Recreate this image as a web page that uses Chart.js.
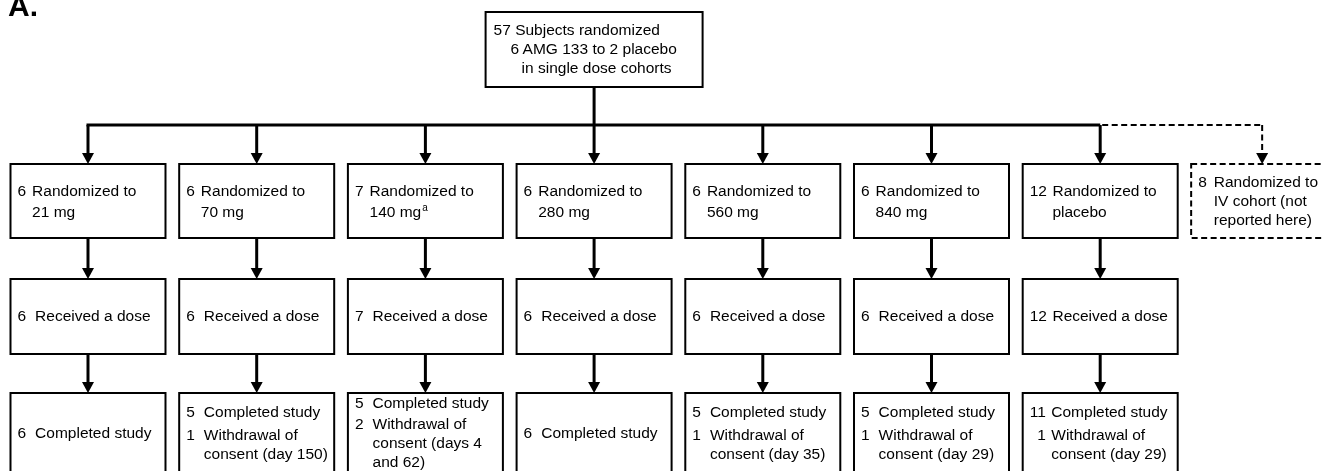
<!DOCTYPE html>
<html>
<head>
<meta charset="utf-8">
<script src="https://cdn.jsdelivr.net/npm/chart.js@4/dist/chart.umd.min.js"></script>
<style>
  html, body { margin: 0; padding: 0; background: #fff; }
  #wrap { position: relative; width: 1323px; height: 471px; }
</style>
</head>
<body>
<div id="wrap"><canvas id="chart"></canvas></div>
<script>
// flow data
const arms = ['21 mg', '70 mg', '140 mg', '280 mg', '560 mg', '840 mg', 'placebo'];
const armNotes = ['', '', 'a', '', '', '', ''];
const randomized = [6, 6, 7, 6, 6, 6, 12];
const dosed = [6, 6, 7, 6, 6, 6, 12];
const completed = [6, 5, 5, 6, 5, 5, 11];
const withdrawn = [0, 1, 2, 0, 1, 1, 1];
const withdrawalDays = ['', 'day 150', 'days 4 and 62', '', 'day 35', 'day 29', 'day 29'];
const totalRandomized = 57;
const ratio = [6, 2];
const ivCohort = 8;

// layout (scale units: x = column, y = pixel rows)
const ivColumn = 6.96;
const topColumn = 3;
const boxW = 155;
const rows = { top: [12, 87], rand: [164, 238], dose: [279, 354], done: [393, 476] };
const branchY = 125;
const FONT = '15.5px "Liberation Sans", Arial, Helvetica, sans-serif';
const INK = '#000';
const DASH = [6, 3.5];

function wrapText(ctx, text, maxW) {
  const words = text.split(' ');
  const out = [];
  let line = '';
  words.forEach(w => {
    const test = line ? line + ' ' + w : w;
    if (ctx.measureText(test).width > maxW && line) {
      out.push(line);
      line = w;
    } else {
      line = test;
    }
  });
  if (line) out.push(line);
  return out;
}

// draws numbered items inside a box, block centered vertically
function drawItems(ctx, items, left, cy, gap, itemGap, lineH) {
  ctx.font = FONT;
  const numW = Math.max(...items.map(it => ctx.measureText(String(it.num)).width));
  const numRight = left + 7 + numW;
  const textX = numRight + (numW > 10 ? Math.min(gap, 5.5) : gap);
  let total = 0;
  items.forEach((it, k) => {
    total += (it.lines.length - 1) * lineH;
    if (k > 0) total += itemGap;
  });
  let y = cy - total / 2;
  ctx.textBaseline = 'middle';
  items.forEach((it, k) => {
    if (k > 0) y += itemGap;
    ctx.textAlign = 'right';
    ctx.fillText(String(it.num), numRight, y);
    ctx.textAlign = 'left';
    it.lines.forEach((ln, j) => {
      if (j > 0) y += lineH;
      ctx.fillText(ln, textX, y);
      if (it.sup && j === it.lines.length - 1) {
        const w = ctx.measureText(ln).width;
        ctx.font = '10px "Liberation Sans", Arial, sans-serif';
        ctx.fillText(it.sup, textX + w + 1, y - 5);
        ctx.font = FONT;
      }
    });
  });
}

function arrow(ctx, x, y1, y2, dashed) {
  ctx.save();
  ctx.lineWidth = 3;
  if (dashed) { ctx.setLineDash(DASH); ctx.lineWidth = 2; }
  ctx.beginPath();
  ctx.moveTo(x, y1);
  ctx.lineTo(x, y2 - 9);
  ctx.stroke();
  ctx.setLineDash([]);
  ctx.beginPath();
  ctx.moveTo(x - 6, y2 - 11);
  ctx.lineTo(x + 6, y2 - 11);
  ctx.lineTo(x, y2);
  ctx.closePath();
  ctx.fill();
  ctx.restore();
}

const flowPlugin = {
  id: 'flow',
  afterDraw(chart) {
    const ctx = chart.ctx;
    const xs = chart.scales.x, ys = chart.scales.y;
    const X = v => xs.getPixelForValue(v);
    const Y = v => ys.getPixelForValue(v);
    const mid = r => (Y(r[0]) + Y(r[1])) / 2;
    ctx.save();
    ctx.strokeStyle = INK;
    ctx.fillStyle = INK;

    // panel letter
    ctx.font = 'bold 30px "Liberation Sans", Arial, sans-serif';
    ctx.textBaseline = 'alphabetic';
    ctx.textAlign = 'left';
    ctx.fillText('A.', 8, 15.5);

    // top box
    const tx = X(topColumn);
    const tl = tx - 108.5;
    ctx.lineWidth = 2;
    ctx.strokeRect(tl, Y(rows.top[0]), 217, Y(rows.top[1]) - Y(rows.top[0]));
    ctx.font = FONT;
    ctx.textBaseline = 'middle';
    const tcy = mid(rows.top);
    ctx.fillText(totalRandomized + ' Subjects randomized', tl + 8, tcy - 19);
    ctx.fillText(String(ratio[0]), tl + 25, tcy);
    ctx.fillText('AMG 133 to ' + ratio[1] + ' placebo', tl + 37, tcy);
    ctx.fillText('in single dose cohorts', tl + 36, tcy + 19);

    // stem and branch line
    ctx.lineWidth = 3;
    ctx.beginPath();
    ctx.moveTo(tx, Y(rows.top[1]));
    ctx.lineTo(tx, Y(branchY));
    ctx.moveTo(X(0) - 1.5, Y(branchY));
    ctx.lineTo(X(arms.length - 1), Y(branchY));
    ctx.stroke();
    ctx.save();
    ctx.lineWidth = 2;
    ctx.setLineDash(DASH);
    ctx.beginPath();
    ctx.moveTo(X(arms.length - 1) + 2, Y(branchY));
    ctx.lineTo(X(ivColumn), Y(branchY));
    ctx.stroke();
    ctx.restore();

    arms.forEach((arm, i) => {
      const cx = X(i);
      const left = cx - boxW / 2;
      arrow(ctx, cx, Y(branchY), Y(rows.rand[0]), false);
      arrow(ctx, cx, Y(rows.rand[1]), Y(rows.dose[0]), false);
      arrow(ctx, cx, Y(rows.dose[1]), Y(rows.done[0]), false);
      ctx.lineWidth = 2;
      [rows.rand, rows.dose, rows.done].forEach(r => {
        ctx.strokeRect(left, Y(r[0]), boxW, Y(r[1]) - Y(r[0]));
      });
      drawItems(ctx, [{ num: randomized[i], lines: ['Randomized to', arm], sup: armNotes[i] }],
        left, mid(rows.rand) + 1.5, 6, 0, 21);
      drawItems(ctx, [{ num: dosed[i], lines: ['Received a dose'] }],
        left, mid(rows.dose), 9, 0, 19);
      const items = [{ num: completed[i], lines: ['Completed study'] }];
      if (withdrawn[i] > 0) {
        ctx.font = FONT;
        items.push({
          num: withdrawn[i],
          lines: wrapText(ctx, 'Withdrawal of consent (' + withdrawalDays[i] + ')', 128)
        });
      }
      const itemGap = items.length > 1 && items[1].lines.length > 2 ? 21 : 23;
      drawItems(ctx, items, left, Y(433.5), 9, itemGap, 19);
    });

    // IV cohort (dashed)
    const ix = X(ivColumn);
    arrow(ctx, ix, Y(branchY), Y(rows.rand[0]), true);
    ctx.save();
    ctx.lineWidth = 2;
    ctx.setLineDash(DASH);
    const il = ix - 71;
    ctx.strokeRect(il, Y(rows.rand[0]), 142, Y(rows.rand[1]) - Y(rows.rand[0]));
    ctx.restore();
    ctx.font = FONT;
    drawItems(ctx, [{ num: ivCohort, lines: wrapText(ctx, 'Randomized to IV cohort (not reported here)', 112) }],
      il, mid(rows.rand) + 1, 7, 0, 19);

    ctx.restore();
  }
};

new Chart(document.getElementById('chart'), {
  type: 'scatter',
  data: {
    datasets: [{
      label: 'arms',
      data: arms.map((a, i) => ({ x: i, y: (rows.rand[0] + rows.rand[1]) / 2 })),
      pointRadius: 0
    }]
  },
  options: {
    responsive: true,
    maintainAspectRatio: false,
    animation: false,
    layout: { padding: 0 },
    plugins: { legend: { display: false }, tooltip: { enabled: false } },
    scales: {
      x: { type: 'linear', display: false, min: -0.5216, max: 7.3207 },
      y: { type: 'linear', display: false, min: 0, max: 471, reverse: true }
    }
  },
  plugins: [flowPlugin]
});
</script>
</body>
</html>
